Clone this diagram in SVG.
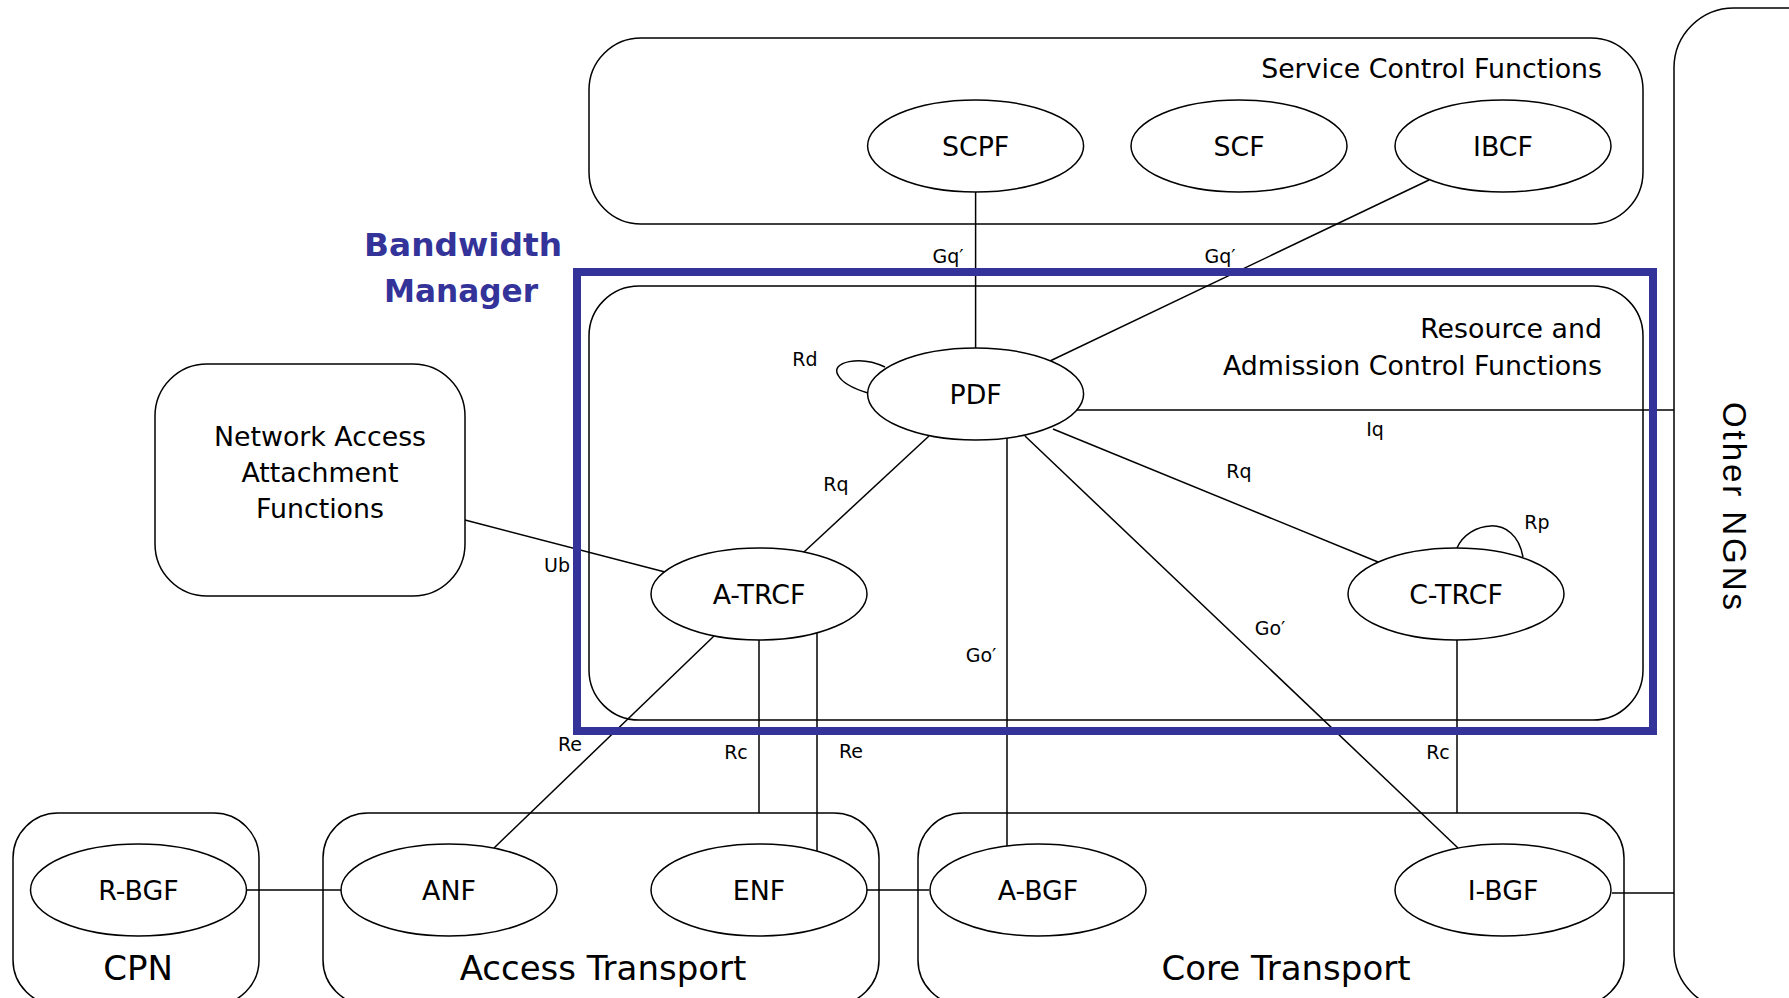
<svg xmlns="http://www.w3.org/2000/svg" width="1789" height="998" viewBox="0 0 1789 998">
<style>
.box{fill:none;stroke:#000;stroke-width:1.5}
.el{fill:#fff;stroke:#000;stroke-width:1.5}
.ln{fill:none;stroke:#000;stroke-width:1.5}
.t{font-family:"DejaVu Sans",Verdana,sans-serif;font-size:26.8px;fill:#000}
.nl{font-family:"DejaVu Sans",Verdana,sans-serif;font-size:26.8px;fill:#000;text-anchor:middle}
.sl{font-family:"DejaVu Sans",Verdana,sans-serif;font-size:19px;fill:#000;text-anchor:middle}
.big{font-family:"DejaVu Sans",Verdana,sans-serif;font-size:34px;fill:#000;text-anchor:middle}
.bw{font-family:"DejaVu Sans",Verdana,sans-serif;font-weight:bold;font-size:32px;fill:#333399;text-anchor:middle}
</style>
<rect width="1789" height="998" fill="#fff"/>

<g id="other-ngns">
<rect class="box" x="1674" y="8" width="200" height="1002" rx="60"/>
<text transform="translate(1723,506) rotate(90)" font-family="'Liberation Sans',Arial,sans-serif" font-size="33" text-anchor="middle" textLength="208" lengthAdjust="spacing">Other NGNs</text>
</g>

<g id="scf-group">
<rect class="box" x="589" y="38" width="1054" height="186" rx="52"/>
<text class="t" x="1602" y="78" text-anchor="end">Service Control Functions</text>
</g>

<g id="racf-group">
<rect class="box" x="589" y="286" width="1054" height="434" rx="50"/>
<text class="t" x="1602" y="338" text-anchor="end">Resource and</text>
<text class="t" x="1602" y="375" text-anchor="end">Admission Control Functions</text>
</g>

<g id="naaf">
<rect class="box" x="155" y="364" width="310" height="232" rx="52"/>
<text class="nl" x="320" y="446">Network Access</text>
<text class="nl" x="320" y="482">Attachment</text>
<text class="nl" x="320" y="518">Functions</text>
</g>

<g id="cpn">
<rect class="box" x="13" y="813" width="246" height="192" rx="45"/>
<text class="big" x="138" y="980">CPN</text>
</g>
<g id="access-transport">
<rect class="box" x="323" y="813" width="556" height="192" rx="45"/>
<text class="big" x="603" y="980">Access Transport</text>
</g>
<g id="core-transport">
<rect class="box" x="918" y="813" width="706" height="192" rx="45"/>
<text class="big" x="1286" y="980">Core Transport</text>
</g>

<g id="connectors">
<path class="ln" d="M975.6,192 V348"/>
<path class="ln" d="M1429,180 L1050,361"/>
<path class="ln" d="M885,367 C860,355 830,362 838,375 C843,385 858,390 868,393"/>
<path class="ln" d="M1077,410 H1674"/>
<path class="ln" d="M1053,429 L1378,562"/>
<path class="ln" d="M1457,548 C1468,522 1515,512 1523,557"/>
<path class="ln" d="M1025,436 L1458,848"/>
<path class="ln" d="M1007,438 V846"/>
<path class="ln" d="M929,436 L804,552"/>
<path class="ln" d="M465,520 L665,572"/>
<path class="ln" d="M714,636 L494,848"/>
<path class="ln" d="M759,640 V813"/>
<path class="ln" d="M817,633 V851"/>
<path class="ln" d="M1457,640 V813"/>
<path class="ln" d="M247,890 H341"/>
<path class="ln" d="M867,890 H929"/>
<path class="ln" d="M1612,893 H1674"/>
<text class="sl" x="948" y="263">Gq′</text>
<text class="sl" x="1220" y="263">Gq′</text>
<text class="sl" x="805" y="366">Rd</text>
<text class="sl" x="1375" y="436">Iq</text>
<text class="sl" x="836" y="491">Rq</text>
<text class="sl" x="1239" y="478">Rq</text>
<text class="sl" x="1537" y="529">Rp</text>
<text class="sl" x="557" y="572">Ub</text>
<text class="sl" x="1270" y="635">Go′</text>
<text class="sl" x="981" y="662">Go′</text>
<text class="sl" x="570" y="751">Re</text>
<text class="sl" x="736" y="759">Rc</text>
<text class="sl" x="851" y="758">Re</text>
<text class="sl" x="1438" y="759">Rc</text>
</g>

<g id="scpf"><ellipse class="el" cx="975.6" cy="146" rx="108" ry="46"/><text class="nl" x="975.6" y="155.5">SCPF</text></g>
<g id="scf"><ellipse class="el" cx="1239" cy="146" rx="108" ry="46"/><text class="nl" x="1239" y="155.5">SCF</text></g>
<g id="ibcf"><ellipse class="el" cx="1503" cy="146" rx="108" ry="46"/><text class="nl" x="1503" y="155.5">IBCF</text></g>
<g id="pdf"><ellipse class="el" cx="975.6" cy="394" rx="108" ry="46"/><text class="nl" x="975.6" y="403.5">PDF</text></g>
<g id="a-trcf"><ellipse class="el" cx="759" cy="594" rx="108" ry="46"/><text class="nl" x="759" y="603.5">A-TRCF</text></g>
<g id="c-trcf"><ellipse class="el" cx="1456" cy="594" rx="108" ry="46"/><text class="nl" x="1456" y="603.5">C-TRCF</text></g>
<g id="r-bgf"><ellipse class="el" cx="138.5" cy="890" rx="108" ry="46"/><text class="nl" x="138.5" y="899.5">R-BGF</text></g>
<g id="anf"><ellipse class="el" cx="449" cy="890" rx="108" ry="46"/><text class="nl" x="449" y="899.5">ANF</text></g>
<g id="enf"><ellipse class="el" cx="759" cy="890" rx="108" ry="46"/><text class="nl" x="759" y="899.5">ENF</text></g>
<g id="a-bgf"><ellipse class="el" cx="1038" cy="890" rx="108" ry="46"/><text class="nl" x="1038" y="899.5">A-BGF</text></g>
<g id="i-bgf"><ellipse class="el" cx="1503" cy="890" rx="108" ry="46"/><text class="nl" x="1503" y="899.5">I-BGF</text></g>

<g id="bandwidth-manager">
<rect x="577" y="272" width="1076" height="459" fill="none" stroke="#333399" stroke-width="8"/>
<text class="bw" x="463" y="256" textLength="198" lengthAdjust="spacingAndGlyphs">Bandwidth</text>
<text class="bw" x="461" y="302" textLength="154" lengthAdjust="spacingAndGlyphs">Manager</text>
</g>
</svg>
